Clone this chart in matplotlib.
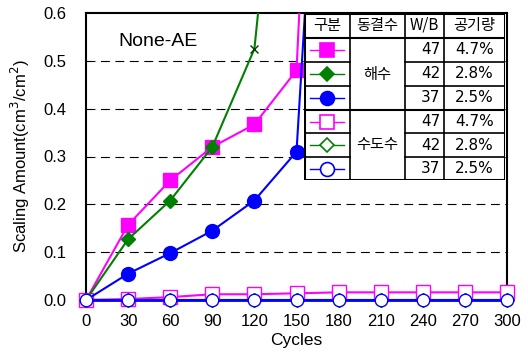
import matplotlib
matplotlib.use('Agg')
import matplotlib.pyplot as plt

plt.rcParams['font.family'] = ['Liberation Sans', 'DejaVu Sans']

# data (values above 0.6 run off the top of the chart)
sea_x = [0, 30, 60, 90, 120, 150, 180]
sea47 = [0, 0.157, 0.25, 0.32, 0.367, 0.48, 2.28]
sea37 = [0, 0.055, 0.098, 0.145, 0.208, 0.31, 1.76]
sea42_x = [0, 30, 60, 90, 120, 150]
sea42 = [0, 0.127, 0.208, 0.32, 0.525, 1.39]

tap_x = [0, 30, 60, 90, 120, 150, 180, 210, 240, 270, 300]
tap47 = [0, 0.002, 0.006, 0.012, 0.012, 0.014, 0.016, 0.016, 0.016, 0.016, 0.016]
tap42 = [0, 0, 0, 0, 0, 0, 0, 0, 0, 0, 0]
tap37 = [0, 0, 0, 0, 0, 0, 0, 0, 0, 0, 0]

# legend table rows
groups = ['해수', '수도수']
wb = ['47', '42', '37', '47', '42', '37']
air = ['4.7%', '2.8%', '2.5%', '4.7%', '2.8%', '2.5%']
colors = ['#ff00ff', '#008000', '#0000ff', '#ff00ff', '#008000', '#0000ff']
markers = ['s', 'D', 'o', 's', 'D', 'o']
filled = [True, True, True, False, False, False]

fig = plt.figure(figsize=(5.28, 3.54), dpi=100)
ax = fig.add_axes([86/528, 1 - 300/354, 421/528, 287/354])

ax.plot(tap_x, tap47, color='#ff00ff', lw=1.5, marker='s', ms=10, mfc='white', mec='#ff00ff', clip_on=False, zorder=3)
ax.plot(tap_x, tap42, color='#008000', lw=1.5, marker='D', ms=7, mfc='white', mec='#008000', clip_on=False, zorder=3)
ax.plot(tap_x, tap37, color='#0000ff', lw=2, marker='o', ms=9, mfc='white', mec='#0000ff', clip_on=False, zorder=4)

ax.plot(sea_x, sea47, color='#ff00ff', lw=1.5, marker='s', ms=10, markevery=range(1, 6), zorder=3)
ax.plot(sea42_x, sea42, color='#008000', lw=1.5, marker='D', ms=7, markevery=range(1, 4), zorder=3)
ax.plot(sea42_x[4], sea42[4], color='#004000', marker='x', ms=6, mew=1, zorder=3)
ax.plot(sea_x, sea37, color='#0000ff', lw=1.5, marker='o', ms=10, markevery=range(1, 6), zorder=3)

ax.set_xlim(0, 300)
ax.set_ylim(0, 0.6)
ax.set_xticks(range(0, 301, 30))
ax.set_yticks([0, 0.1, 0.2, 0.3, 0.4, 0.5, 0.6])
ax.set_yticklabels(['0.0', '0.1', '0.2', '0.3', '0.4', '0.5', '0.6'])
ax.tick_params(length=0, labelsize=12)
ax.tick_params(axis='x', pad=10)
ax.tick_params(axis='y', pad=14)
for y in [0.1, 0.2, 0.3, 0.4, 0.5]:
    ax.axhline(y, color='black', lw=0.8, ls=(0, (8, 5)), zorder=1)
for s in ax.spines.values():
    s.set_linewidth(1.5)
ax.set_xlabel('Cycles', fontsize=12.5, labelpad=3)
ax.set_ylabel('Scaling Amount(cm$^3$/cm$^2$)', fontsize=12, labelpad=8)
ax.text(0.078, 0.9, 'None-AE', transform=ax.transAxes, fontsize=14, va='center')

# legend table drawn by hand
tb = fig.add_axes([304/528, 1 - 180/354, 201/528, 167/354], zorder=5)
tb.set_xlim(0, 201)
tb.set_ylim(167, 0)
tb.axis('off')
tb.add_patch(plt.Rectangle((0, 0), 201, 167, facecolor='white', edgecolor='none'))
cols = [0, 46, 101, 140, 201]
rows = [0, 25, 49, 73, 97, 120, 144, 167]
for c in cols[1:-1]:
    tb.plot([c, c], [0, 167], color='black', lw=1.2)
for i, r in enumerate(rows[1:-1]):
    if i in (1, 2, 4, 5):
        tb.plot([0, 46], [r, r], color='black', lw=1.2)
        tb.plot([101, 201], [r, r], color='black', lw=1.2)
    else:
        tb.plot([0, 201], [r, r], color='black', lw=1.5)
tb.plot([0, 201, 201, 0, 0], [0, 0, 167, 167, 0], color='black', lw=2.2)

kfont = ['Noto Sans CJK KR', 'DejaVu Sans']
heads = ['구분', '동결수', 'W/B', '공기량']
for j, h in enumerate(heads):
    tb.text((cols[j] + cols[j + 1]) / 2, 12.5, h, ha='center', va='center', fontsize=11, family=kfont)
tb.text(73.5, 61, groups[0], ha='center', va='center', fontsize=11, family=kfont)
tb.text(73.5, 132, groups[1], ha='center', va='center', fontsize=11, family=kfont)
for i in range(6):
    yc = (rows[i + 1] + rows[i + 2]) / 2
    tb.plot([6, 40], [yc, yc], color=colors[i], lw=1)
    ms = 7 if markers[i] == 'D' else 10
    tb.plot(23, yc, marker=markers[i], ms=ms, color=colors[i],
            mfc=colors[i] if filled[i] else 'white', mec=colors[i], mew=1.2)
    tb.text(136, yc, wb[i], ha='right', va='center', fontsize=11, family=['DejaVu Sans'])
    tb.text(170.5, yc, air[i], ha='center', va='center', fontsize=11, family=['DejaVu Sans'])

fig.savefig('out.png', dpi=100)
